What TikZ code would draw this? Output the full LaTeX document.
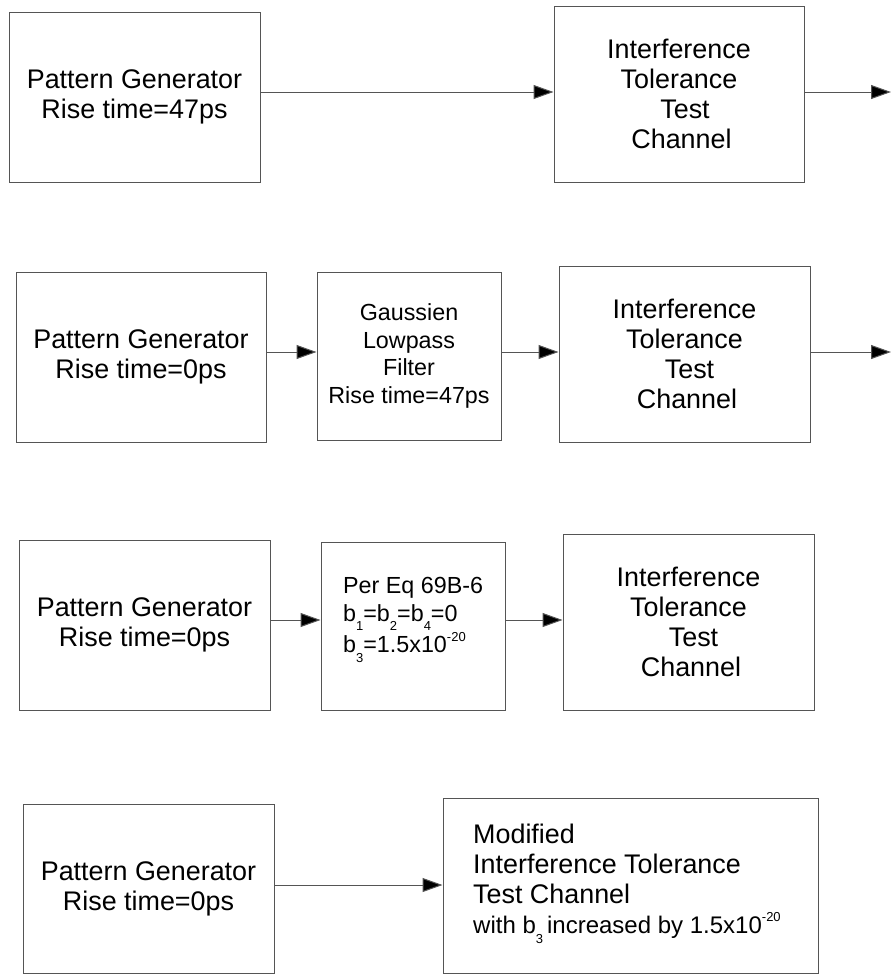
\documentclass[tikz,border=0pt]{standalone}
\usepackage{fontspec}
\setmainfont{Liberation Sans}
\usetikzlibrary{arrows.meta}
\newcommand\bigfont{\fontsize{26.9}{30}\selectfont}
\newcommand\midfont{\fontsize{23.3}{27.5}\selectfont}
\newcommand\bsub[1]{\raisebox{-0.42em}{\fontsize{13}{13}\selectfont #1}}
\newcommand\bsup[1]{\raisebox{0.5em}{\fontsize{13}{13}\selectfont #1}}
\definecolor{linegray}{RGB}{85,85,85}
\tikzset{
  box/.style={draw=linegray, line width=1pt, inner sep=0pt, align=center, font=\bigfont},
  smallbox/.style={box, font=\midfont},
  txt/.style={inner sep=0pt, align=left, anchor=west},
  arr/.style={draw=linegray, line width=1pt, -{Triangle[length=20pt,width=14pt,fill=black]}},
}
\begin{document}
\begin{tikzpicture}[x=1pt,y=-1pt]
\useasboundingbox (0,0) rectangle (891,975);
% Row 1
\node[box, minimum width=251pt, minimum height=170pt] (b1) at (134.5,97) {Pattern Generator\\Rise time=47ps};
\node[box, minimum width=250pt, minimum height=176pt] (b2) at (679,94) {Interference\\Tolerance\\\hspace*{12pt}Test\\\hspace*{5pt}Channel};
\coordinate (o1) at (891,92);
\draw[arr] ([yshift=5pt]b1.east) -- ([yshift=5pt]b1.east -| b2.west);
\draw[arr] ([yshift=2pt]b2.east) -- (o1);
% Row 2
\node[box, minimum width=250pt, minimum height=170pt] (b3) at (141,357) {Pattern Generator\\Rise time=0ps};
\node[smallbox, minimum width=184pt, minimum height=168pt] (b4) at (409,356) {Gaussien\\Lowpass\\Filter\\Rise time=47ps};
\node[box, minimum width=251pt, minimum height=176pt] (b5) at (684.5,354) {Interference\\Tolerance\\\hspace*{10pt}Test\\\hspace*{5pt}Channel};
\coordinate (o2) at (891,352);
\draw[arr] ([yshift=5pt]b3.east) -- ([yshift=5pt]b3.east -| b4.west);
\draw[arr] ([yshift=4pt]b4.east) -- ([yshift=4pt]b4.east -| b5.west);
\draw[arr] ([yshift=2pt]b5.east) -- (o2);
% Row 3
\node[box, minimum width=251pt, minimum height=170pt] (b6) at (144.5,625) {Pattern Generator\\Rise time=0ps};
\node[smallbox, minimum width=184pt, minimum height=168pt] (b7) at (413,626) {};
\node[txt, font=\midfont] (t7) at (343,620) {Per Eq 69B-6\\b\bsub{1}=b\bsub{2}=b\bsub{4}=0\\b\bsub{3}=1.5x10\bsup{-20}};
\node[box, minimum width=251pt, minimum height=176pt] (b8) at (688.5,622) {Interference\\Tolerance\\\hspace*{10pt}Test\\\hspace*{5pt}Channel};
\draw[arr] ([yshift=5pt]b6.east) -- ([yshift=5pt]b6.east -| b7.west);
\draw[arr] ([yshift=6pt]b7.east) -- ([yshift=6pt]b7.east -| b8.west);
% Row 4
\node[box, minimum width=251pt, minimum height=169pt] (b9) at (148.5,888.5) {Pattern Generator\\Rise time=0ps};
\node[box, minimum width=375pt, minimum height=175pt] (b10) at (630.5,885.5) {};
\node[txt, font=\bigfont] (t10) at (473,883.5) {Modified\\Interference Tolerance\\Test Channel\\{\fontsize{24}{30}\selectfont with b\bsub{3}\,increased by 1.5x10\bsup{-20}}};
\draw[arr] ([yshift=3.5pt]b9.east) -- ([yshift=3.5pt]b9.east -| b10.west);
\end{tikzpicture}
\end{document}
